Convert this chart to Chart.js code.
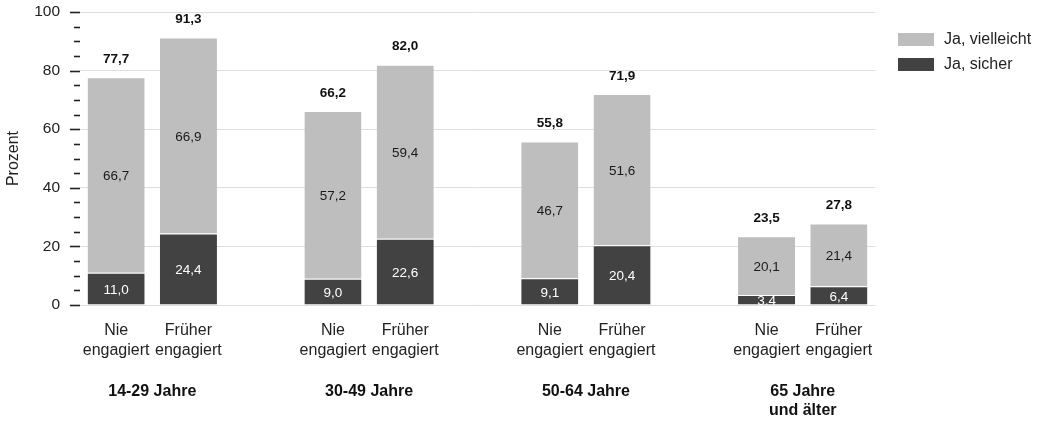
<!DOCTYPE html>
<html>
<head>
<meta charset="utf-8">
<script src="https://cdn.jsdelivr.net/npm/chart.js@4"></script>
<style>
  html, body { margin: 0; padding: 0; background: #fff; }
  #wrap { width: 1043px; height: 422px; }
</style>
</head>
<body>
<div id="wrap"><canvas id="c" width="1043" height="422"></canvas></div>
<script>
// ---- data ----
const barLabels = [
  ['Nie', 'engagiert'], ['Früher', 'engagiert'],
  ['Nie', 'engagiert'], ['Früher', 'engagiert'],
  ['Nie', 'engagiert'], ['Früher', 'engagiert'],
  ['Nie', 'engagiert'], ['Früher', 'engagiert']
];
const groupLabels = [['14-29 Jahre'], ['30-49 Jahre'], ['50-64 Jahre'], ['65 Jahre', 'und älter']];
const jaSicher      = [11.0, 24.4, 9.0, 22.6, 9.1, 20.4, 3.4, 6.4];
const jaVielleicht  = [66.7, 66.9, 57.2, 59.4, 46.7, 51.6, 20.1, 21.4];
const totals        = [77.7, 91.3, 66.2, 82.0, 55.8, 71.9, 23.5, 27.8];
const yTickLabels   = [0, 20, 40, 60, 80, 100];

// build category slots: 2 bars per group, one empty slot between groups
const labels = [], sicher = [], vielleicht = [], tot = [], groupSlots = [];
for (let g = 0; g < groupLabels.length; g++) {
  if (g > 0) { labels.push(''); sicher.push(null); vielleicht.push(null); tot.push(null); }
  const slots = [];
  for (let k = 0; k < 2; k++) {
    const i = g * 2 + k;
    slots.push(labels.length);
    labels.push(barLabels[i]); sicher.push(jaSicher[i]); vielleicht.push(jaVielleicht[i]); tot.push(totals[i]);
  }
  groupSlots.push(slots);
}

const fmt = v => v.toFixed(1).replace('.', ',');
const FONT = '"Liberation Sans", Arial, sans-serif';

const labelPlugin = {
  id: 'labels',
  afterDatasetsDraw(chart) {
    const ctx = chart.ctx, a = chart.chartArea;
    ctx.save();
    ctx.beginPath(); ctx.rect(a.left, a.top, a.right - a.left, a.bottom - a.top); ctx.clip();
    ctx.textAlign = 'center'; ctx.textBaseline = 'middle';
    ctx.font = '13.5px ' + FONT;
    chart.data.datasets.forEach((ds, di) => {
      const meta = chart.getDatasetMeta(di);
      meta.data.forEach((el, i) => {
        const v = ds.data[i];
        if (v == null) return;
        ctx.fillStyle = di === 0 ? '#ffffff' : '#1a1a1a';
        ctx.fillText(fmt(v), el.x, (el.y + el.base) / 2 + 1.5);
      });
    });
    ctx.restore();
    // totals
    ctx.save();
    ctx.textAlign = 'center'; ctx.textBaseline = 'middle';
    ctx.font = 'bold 13.5px ' + FONT;
    ctx.fillStyle = '#111';
    const topMeta = chart.getDatasetMeta(1);
    topMeta.data.forEach((el, i) => {
      if (tot[i] == null) return;
      ctx.fillText(fmt(tot[i]), el.x, el.y - 18);
    });
    ctx.restore();
  },
  afterDraw(chart) {
    const ctx = chart.ctx, a = chart.chartArea;
    const x = chart.scales.x, y = chart.scales.y;
    ctx.save();
    // y tick marks (major + minor)
    ctx.strokeStyle = '#222'; ctx.lineWidth = 1.6;
    for (let v = 0; v <= 100; v += 5) {
      const py = Math.round(y.getPixelForValue(v)) + 0.5;
      const major = v % 20 === 0;
      ctx.beginPath();
      ctx.moveTo(a.left - (major ? 10 : 6), py);
      ctx.lineTo(a.left, py);
      ctx.stroke();
    }
    // group labels
    ctx.font = 'bold 16px ' + FONT;
    ctx.fillStyle = '#111';
    ctx.textAlign = 'center'; ctx.textBaseline = 'middle';
    groupSlots.forEach((s, g) => {
      const cx = (x.getPixelForValue(s[0]) + x.getPixelForValue(s[1])) / 2;
      groupLabels[g].forEach((line, li) => ctx.fillText(line, cx, a.bottom + 87 + li * 19));
    });
    // legend (top item = upper stack)
    ctx.font = '16px ' + FONT;
    ctx.textAlign = 'left';
    const order = [1, 0];
    order.forEach((di, r) => {
      const ds = chart.data.datasets[di];
      const bx = a.right + 23, by = 33 + r * 25;
      ctx.fillStyle = ds.backgroundColor;
      ctx.fillRect(bx, by, 36, 13);
      ctx.fillStyle = '#222';
      ctx.fillText(ds.label, bx + 46, by + 7);
    });
    ctx.restore();
  }
};

new Chart(document.getElementById('c'), {
  type: 'bar',
  data: {
    labels,
    datasets: [
      { label: 'Ja, sicher', data: sicher, backgroundColor: '#424242',
        borderColor: '#ffffff', borderWidth: { top: 1, left: 0, right: 0, bottom: 0 }, borderSkipped: false },
      { label: 'Ja, vielleicht', data: vielleicht, backgroundColor: '#bebebe',
        borderColor: '#ffffff', borderWidth: { top: 1, left: 0, right: 0, bottom: 0 }, borderSkipped: false }
    ]
  },
  options: {
    responsive: false,
    animation: false,
    devicePixelRatio: 1,
    layout: { padding: { top: 12, right: 168, left: 0, bottom: 0 } },
    datasets: { bar: { categoryPercentage: 1, barPercentage: 0.79 } },
    plugins: { legend: { display: false }, tooltip: { enabled: false } },
    scales: {
      x: {
        stacked: true,
        grid: { display: false, drawTicks: false },
        border: { display: false },
        ticks: { font: { family: FONT, size: 16, lineHeight: 1.25 }, color: '#222', padding: 16, maxRotation: 0, autoSkip: false },
        afterFit(s) { s.height = 117; s.paddingLeft = 0; s.paddingRight = 0; }
      },
      y: {
        stacked: true,
        min: 0, max: 100,
        border: { display: false },
        grid: {
          drawTicks: false,
          color: c => (c.tick && c.tick.value % 20 === 0) ? '#dedede' : 'rgba(0,0,0,0)',
          lineWidth: 1
        },
        ticks: {
          stepSize: 5, autoSkip: false, padding: 20,
          font: { family: FONT, size: 15.5 }, color: '#222',
          callback: v => yTickLabels.includes(v) ? String(v) : ''
        },
        title: { display: true, text: 'Prozent', font: { family: FONT, size: 16 }, color: '#222', padding: { top: 4, bottom: 0 } },
        afterFit(s) { s.width = 80; s.paddingTop = 0; s.paddingBottom = 0; }
      }
    }
  },
  plugins: [labelPlugin]
});
</script>
</body>
</html>
